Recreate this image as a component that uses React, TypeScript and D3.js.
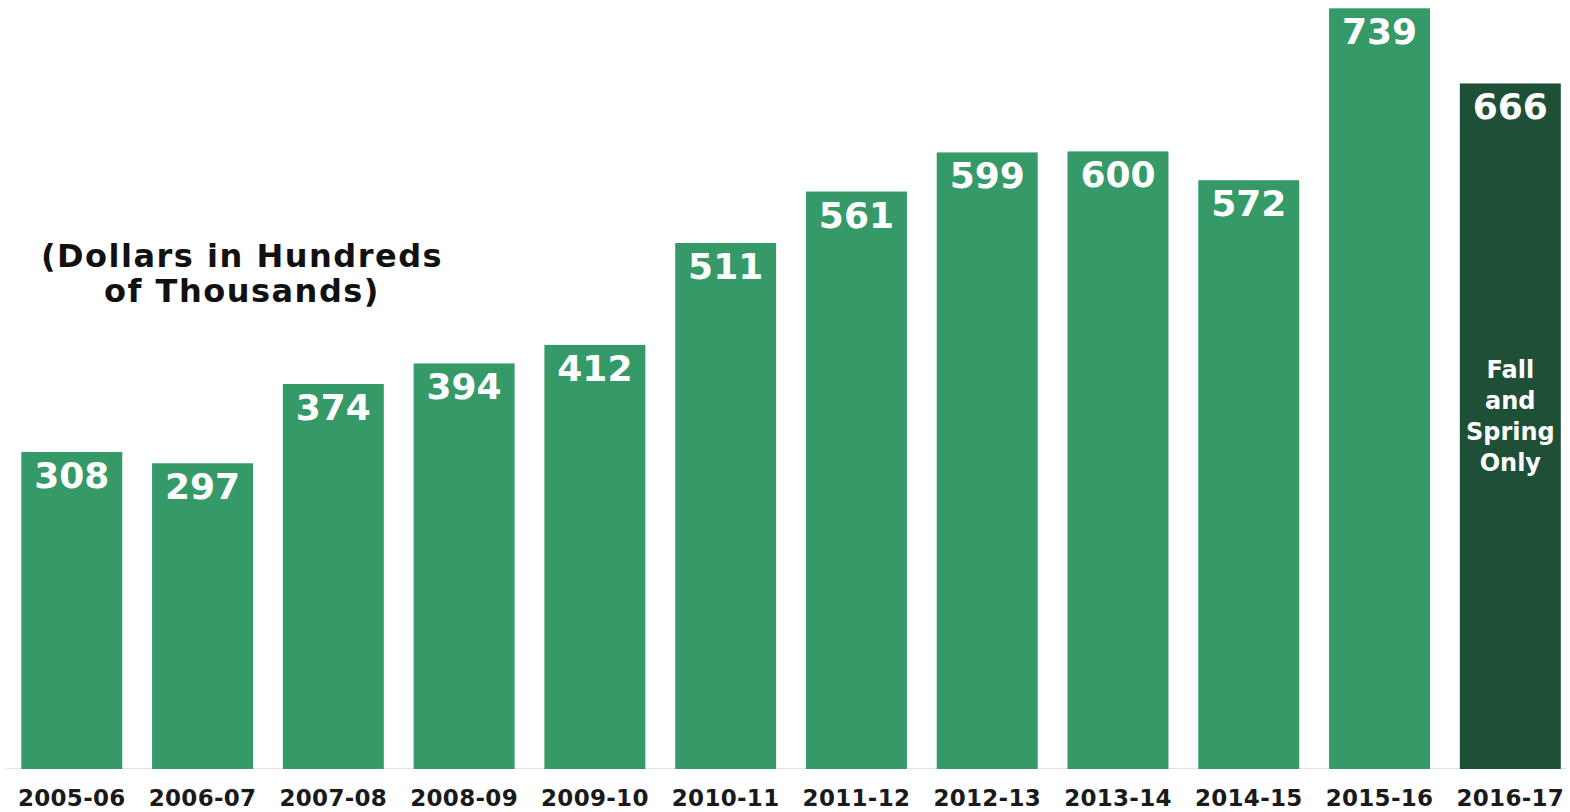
import React from "react";
import * as d3 from "d3";

const categories = ["2005-06","2006-07","2007-08","2008-09","2009-10","2010-11","2011-12","2012-13","2013-14","2014-15","2015-16","2016-17"];
const values = [308, 297, 374, 394, 412, 511, 561, 599, 600, 572, 739, 666];
const highlighted = ["2016-17"];
const noteLines = ["Fall", "and", "Spring", "Only"];
const titleLines = ["(Dollars in Hundreds", "of Thousands)"];

const W = 1570, H = 812;
const FONT = "'DejaVu Sans', sans-serif";

export default function App() {
  const x = d3.scaleBand<string>().domain(categories).range([21.3, 1560.8]).paddingInner(0.228).paddingOuter(0);
  const y = d3.scaleLinear().domain([0, d3.max(values) as number]).range([769, 8.3]);
  const last = categories[categories.length - 1];
  return (
    <svg width={W} height={H} style={{ position: "absolute", left: 0, top: 0, background: "#fff" }} fontFamily={FONT}>
      <line x1={6} x2={1566} y1={768.5} y2={768.5} stroke="#e2e2e2" strokeWidth={1} />
      {categories.map((c, i) => {
        const v = values[i];
        const bx = x(c) as number;
        const by = y(v);
        const dark = highlighted.includes(c);
        return (
          <g key={c}>
            <rect x={bx} y={by} width={x.bandwidth()} height={y(0) - by} fill={dark ? "#1E4F37" : "#359A68"} />
            <text x={bx + x.bandwidth() / 2} y={by + 36} textAnchor="middle" fill="#fff" fontWeight="bold" fontSize={36}>{v}</text>
            <text x={bx + x.bandwidth() / 2} y={806} textAnchor="middle" fill="#1a1a1a" fontWeight="bold" fontSize={23} letterSpacing={0.3}>{c}</text>
          </g>
        );
      })}
      {noteLines.map((t, i) => (
        <text key={t} x={(x(last) as number) + x.bandwidth() / 2} y={378 + i * 31} textAnchor="middle" fill="#fff" fontWeight="bold" fontSize={24}>{t}</text>
      ))}
      {titleLines.map((t, i) => (
        <text key={t} x={242} y={267 + i * 35} textAnchor="middle" fill="#111" fontWeight="bold" fontSize={32} letterSpacing={1.5}>{t}</text>
      ))}
    </svg>
  );
}
